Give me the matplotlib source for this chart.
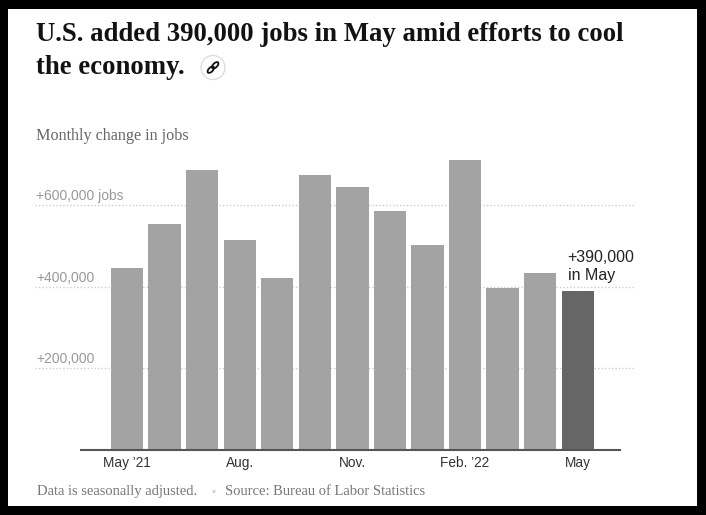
import numpy as np
import matplotlib
matplotlib.use("Agg")
import matplotlib.pyplot as plt
from matplotlib.patches import Rectangle, Circle, Ellipse

# ---- data ----
months = ["May ’21", "Jun.", "Jul.", "Aug.", "Sep.", "Oct.", "Nov.", "Dec.",
          "Jan. ’22", "Feb. ’22", "Mar.", "Apr.", "May"]
jobs = [446000, 555000, 687000, 515000, 423000, 675000, 645000, 587000,
        503000, 712000, 398000, 434000, 390000]
tick_idx = [0, 3, 6, 9, 12]
tick_labels = ["May ’21", "Aug.", "Nov.", "Feb. ’22", "May"]
grid_values = [200000, 400000, 600000]
grid_labels = ["+200,000", "+400,000", "+600,000 jobs"]
title_lines = ["U.S. added 390,000 jobs in May amid efforts to cool", "the economy."]
subtitle = "Monthly change in jobs"
note = "Data is seasonally adjusted."
source = "Source: Bureau of Labor Statistics"
callout = "+390,000\nin May"

plt.rcParams["font.family"] = ["Liberation Sans", "DejaVu Sans"]

W, H = 706, 515
fig = plt.figure(figsize=(W / 100, H / 100), dpi=100)
fig.patch.set_facecolor("black")

bg = fig.add_axes([0, 0, 1, 1], zorder=0)
bg.set_xlim(0, W)
bg.set_ylim(H, 0)
bg.axis("off")
bg.add_patch(Rectangle((8, 9), 689, 497, facecolor="white", edgecolor="none"))

serif = ["Liberation Serif", "DejaVu Serif"]
bg.text(36, 40.7, title_lines[0], family=serif, weight="bold", fontsize=19.25,
        color="#121212", va="baseline", ha="left")
bg.text(36, 74, title_lines[1], family=serif, weight="bold", fontsize=19.25,
        color="#121212", va="baseline", ha="left")

# link icon
bg.add_patch(Circle((213, 67.5), 12, facecolor="white", edgecolor="#dddddd", lw=1))
bg.add_patch(Ellipse((210.8, 69.7), 8, 4.2, angle=-45, facecolor="none",
                     edgecolor="#121212", lw=1.3))
bg.add_patch(Ellipse((215.2, 65.3), 8, 4.2, angle=-45, facecolor="none",
                     edgecolor="#121212", lw=1.3))

bg.text(36, 136, subtitle, family=serif, fontsize=11.6, color="#666666",
        va="center", ha="left")

bg.text(37, 491.7, note, family=serif, fontsize=10.5, color="#777777",
        va="center", ha="left")
bg.text(213, 491.7, "•", fontsize=8, color="#cccccc", va="center", ha="center")
bg.text(225, 491.7, source, family=serif, fontsize=10.5, color="#777777",
        va="center", ha="left")

# ---- chart ----
ax = fig.add_axes([35 / W, (H - 450) / H, 600 / W, (450 - 152.5) / H], zorder=1)
ax.patch.set_alpha(0)
x = np.arange(len(jobs))
colors = ["#a3a3a3"] * (len(jobs) - 1) + ["#666666"]
ax.bar(x, jobs, width=0.86, color=colors, zorder=2)
ax.set_xlim(-2.449, 13.525)
ax.set_ylim(0, 730000)

for v, lab in zip(grid_values, grid_labels):
    ax.axhline(v, color="#cccccc", lw=1, ls=(0, (1, 1.5)), zorder=1)
    ax.annotate(lab, xy=(0, v), xycoords=ax.get_yaxis_transform(),
                xytext=(1, 5), textcoords="offset pixels", ha="left",
                va="baseline", fontsize=10, color="#999999")

ax.hlines(0, x[0] - 1.25, x[-1] + 1.15, color="#555555", lw=1.5, zorder=3,
          clip_on=False)

for s in ax.spines.values():
    s.set_visible(False)
ax.set_yticks([])
ax.set_xticks(tick_idx, tick_labels)
ax.tick_params(axis="x", length=0, pad=4, labelsize=9.8, labelcolor="#333333")

ax.annotate(callout, xy=(x[-1], jobs[-1]), xytext=(-10, 8),
            textcoords="offset pixels", ha="left", va="bottom",
            fontsize=11.5, color="#222222", linespacing=1.25)

fig.savefig("out.png", dpi=100, facecolor=fig.get_facecolor())
